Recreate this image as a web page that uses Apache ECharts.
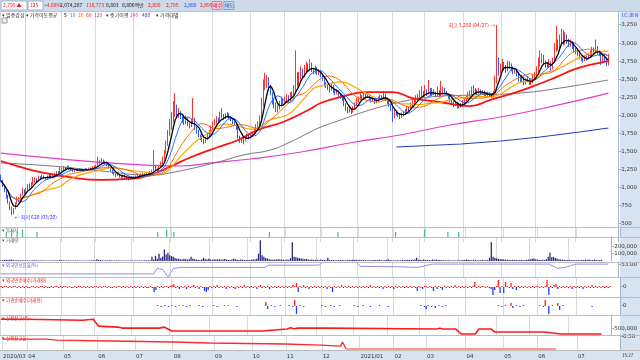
<!DOCTYPE html>
<html><head><meta charset="utf-8">
<script src="https://cdn.jsdelivr.net/npm/echarts@6/dist/echarts.min.js"></script>
<style>html,body{margin:0;padding:0;background:#fff}#c{width:640px;height:360px}</style>
</head><body><div id="c"></div>
<script>
const monthLabels = ['2020/03','04','05','06','07','08','09','10','11','12','2021/01','02','03','04','05','06','07'];
const monthDays = [14,20,19,21,21,23,21,19,20,21,19,18,22,21,19,22,19];
const padDays = 5;
const priceTicks = [500,750,1000,1250,1500,1750,2000,2250,2500,2750,3000,3250];
// [open, close, low, high]
const ohlc = [
[1150,1100,1080,1180],[1090,1030,1010,1110],[1040,960,940,1050],[950,870,850,980],[880,800,780,900],[790,720,690,810],[700,660,620,740],[650,700,630,720],[710,780,700,800],[790,850,770,880],[860,820,800,870],[810,900,800,920],[910,950,890,1000],[960,930,910,980],
[930,980,920,1000],[990,1020,970,1050],[1030,1000,990,1060],[1000,1050,990,1080],[1060,1080,1040,1150],[1090,1120,1070,1140],[1120,1100,1080,1140],[1100,1150,1090,1170],[1150,1130,1110,1160],[1130,1160,1120,1180],[1160,1140,1130,1170],[1140,1120,1110,1150],[1120,1150,1110,1170],[1150,1170,1140,1190],[1170,1140,1130,1180],[1140,1160,1130,1170],[1160,1180,1150,1200],[1180,1210,1170,1230],[1210,1200,1190,1230],[1200,1230,1190,1290],
[1230,1250,1220,1270],[1250,1280,1240,1300],[1280,1270,1250,1290],[1270,1290,1260,1310],[1290,1260,1250,1300],[1260,1240,1230,1270],[1240,1230,1220,1250],[1230,1250,1220,1260],[1250,1240,1230,1260],[1240,1260,1230,1270],[1260,1250,1240,1270],[1250,1230,1220,1260],[1230,1240,1220,1250],[1240,1260,1230,1270],[1260,1250,1240,1270],[1250,1270,1240,1280],[1270,1260,1250,1280],[1260,1280,1250,1300],[1280,1290,1270,1310],
[1290,1300,1280,1320],[1300,1330,1290,1430],[1330,1360,1320,1390],[1360,1380,1340,1410],[1380,1350,1330,1390],[1350,1340,1320,1370],[1340,1320,1300,1350],[1320,1280,1270,1330],[1280,1240,1230,1290],[1240,1200,1190,1250],[1200,1190,1170,1220],[1190,1170,1150,1200],[1170,1180,1160,1200],[1180,1160,1140,1190],[1160,1150,1110,1170],[1150,1170,1140,1180],[1170,1140,1120,1180],[1140,1130,1110,1150],[1130,1120,1100,1140],[1120,1140,1110,1150],[1140,1130,1120,1150],
[1130,1140,1120,1160],[1140,1150,1130,1170],[1150,1170,1140,1190],[1170,1160,1150,1190],[1160,1180,1150,1200],[1180,1190,1170,1210],[1190,1170,1160,1200],[1170,1200,1160,1220],[1200,1190,1180,1220],[1190,1210,1180,1230],[1210,1230,1200,1250],[1240,1300,1230,1520],[1300,1250,1240,1320],[1250,1240,1220,1270],[1240,1300,1230,1320],[1300,1330,1290,1360],[1330,1400,1320,1430],[1400,1480,1390,1520],[1490,1600,1470,1650],[1600,1750,1580,1800],[1750,1850,1720,1950],
[1850,1950,1800,2050],[1960,2050,1900,2200],[2050,2100,1980,2310],[2100,2000,1960,2150],[2000,2050,1970,2100],[2040,1980,1950,2060],[1980,1950,1900,2000],[1950,1900,1870,1980],[1900,1950,1880,2000],[1950,1880,1850,1970],[1880,1850,1820,1900],[1850,1900,1840,1950],[1900,1950,1880,2240],[1950,1820,1800,1970],[1820,1780,1750,1840],[1780,1720,1700,1800],[1720,1700,1660,1740],[1700,1650,1630,1720],[1650,1640,1600,1680],[1640,1680,1620,1700],[1680,1720,1660,1750],[1720,1760,1700,1800],[1760,1820,1750,1860],
[1820,1880,1800,1920],[1880,1900,1860,1950],[1900,1950,1880,1990],[1950,1920,1900,1970],[1920,1980,1910,2050],[1980,2000,1960,2100],[2000,1960,1940,2020],[1960,1990,1950,2030],[1990,2010,1970,2050],[2010,1970,1950,2030],[1970,1940,1920,1990],[1940,1900,1880,1960],[1900,1880,1860,1920],[1880,1820,1800,1900],[1820,1700,1680,1840],[1700,1660,1620,1720],[1660,1680,1620,1700],[1680,1650,1600,1700],[1650,1700,1640,1720],[1700,1720,1680,1750],[1720,1690,1670,1740],
[1690,1740,1680,1760],[1740,1760,1720,1780],[1760,1800,1750,1830],[1800,1850,1790,1880],[1850,1880,1830,1920],[1880,1950,1860,2000],[1960,2150,1950,2250],[2150,2400,2120,2500],[2400,2450,2350,2590],[2450,2500,2380,2560],[2500,2400,2350,2530],[2400,2300,2280,2420],[2300,2200,2150,2320],[2200,2150,2100,2240],[2150,2080,2050,2180],[2080,2100,2040,2150],[2100,2150,2080,2200],[2150,2200,2120,2260],[2200,2180,2150,2240],
[2180,2200,2150,2260],[2200,2240,2180,2300],[2240,2220,2180,2280],[2220,2280,2200,2320],[2280,2260,2230,2330],[2260,2350,2250,2420],[2350,2500,2340,2900],[2500,2450,2400,2600],[2450,2520,2420,2600],[2520,2600,2500,2680],[2600,2550,2520,2650],[2550,2620,2530,2700],[2620,2680,2600,2750],[2680,2650,2600,2720],[2650,2700,2620,2780],[2700,2620,2600,2730],[2620,2600,2570,2660],[2600,2640,2580,2690],[2640,2580,2560,2670],[2580,2600,2560,2640],
[2600,2560,2530,2620],[2560,2500,2480,2580],[2500,2420,2400,2520],[2420,2400,2380,2460],[2400,2380,2350,2430],[2380,2350,2320,2400],[2350,2400,2340,2440],[2400,2330,2310,2420],[2330,2300,2280,2350],[2300,2340,2290,2360],[2340,2280,2260,2350],[2280,2250,2230,2300],[2250,2220,2200,2270],[2220,2150,2130,2240],[2150,2100,2060,2170],[2100,2060,2030,2120],[2060,2080,2040,2110],[2080,2050,2020,2100],[2050,2100,2040,2130],[2100,2150,2090,2180],[2150,2200,2140,2240],
[2200,2230,2180,2260],[2230,2260,2210,2300],[2260,2240,2220,2280],[2240,2280,2230,2320],[2280,2250,2230,2300],[2250,2270,2240,2310],[2270,2230,2210,2290],[2230,2200,2180,2250],[2200,2220,2190,2250],[2220,2180,2160,2240],[2180,2200,2170,2230],[2200,2230,2190,2260],[2230,2260,2220,2290],[2260,2250,2230,2280],[2250,2280,2240,2340],[2280,2220,2200,2300],[2220,2180,2160,2240],[2180,2150,2120,2200],[2150,2100,2060,2160],
[2100,1980,1910,2120],[1980,2050,1960,2080],[2050,2020,2000,2070],[2020,2000,1980,2040],[2000,1980,1950,2030],[1980,2010,1970,2040],[2010,2030,1990,2060],[2030,2060,2010,2090],[2060,2100,2040,2130],[2100,2080,2060,2120],[2080,2150,2070,2180],[2150,2180,2130,2220],[2180,2200,2160,2240],[2200,2230,2180,2280],[2230,2250,2210,2300],[2250,2280,2230,2350],[2280,2300,2260,2400],[2300,2280,2250,2340],
[2280,2320,2260,2420],[2320,2300,2270,2360],[2300,2350,2290,2490],[2350,2280,2260,2380],[2280,2330,2270,2380],[2330,2300,2280,2360],[2300,2270,2250,2330],[2270,2320,2260,2400],[2320,2280,2260,2350],[2280,2300,2270,2480],[2300,2340,2290,2400],[2340,2310,2290,2380],[2310,2290,2270,2340],[2290,2250,2230,2310],[2250,2200,2180,2270],[2200,2180,2150,2230],[2180,2150,2120,2200],[2150,2170,2130,2200],[2170,2120,2090,2190],[2120,2150,2100,2180],[2150,2130,2110,2170],[2130,2180,2120,2210],
[2180,2200,2160,2230],[2200,2230,2180,2270],[2230,2280,2220,2330],[2280,2300,2260,2350],[2300,2320,2280,2400],[2320,2350,2300,2420],[2350,2330,2300,2380],[2330,2310,2290,2360],[2310,2340,2300,2380],[2340,2300,2280,2360],[2300,2320,2290,2350],[2320,2290,2270,2340],[2290,2270,2250,2320],[2270,2300,2260,2330],[2300,2280,2260,2320],[2280,2260,2240,2300],[2260,2300,2250,2340],[2300,2450,2290,2550],[2450,2700,2440,3250],[2700,2600,2550,2800],[2600,2650,2580,2720],
[2650,2700,2620,2780],[2700,2650,2620,2740],[2650,2620,2590,2700],[2620,2700,2610,2760],[2700,2680,2650,2750],[2680,2640,2610,2720],[2640,2600,2570,2680],[2600,2620,2580,2660],[2620,2560,2540,2650],[2560,2500,2470,2590],[2500,2480,2450,2530],[2480,2520,2460,2560],[2520,2450,2420,2540],[2450,2480,2430,2510],[2480,2500,2460,2540],[2500,2440,2420,2520],[2440,2470,2420,2500],[2470,2520,2450,2560],[2520,2560,2500,2600],
[2560,2600,2540,2680],[2600,2700,2590,2800],[2700,2750,2680,2900],[2750,2800,2720,2860],[2800,2720,2700,2840],[2720,2700,2660,2760],[2700,2680,2650,2740],[2680,2720,2660,2780],[2720,2650,2620,2750],[2650,2750,2640,2800],[2750,2900,2740,3000],[2900,2980,2880,3240],[2980,2950,2900,3050],[2950,3050,2930,3120],[3050,3100,3000,3200],[3100,3000,2970,3180],[3000,3080,2980,3150],[3080,3020,2990,3120],[3020,2980,2950,3060],[2980,3000,2950,3050],[3000,2950,2920,3030],[2950,2900,2870,2980],
[2900,2880,2850,2940],[2880,2850,2820,2920],[2850,2800,2780,2880],[2800,2780,2750,2830],[2780,2760,2730,2800],[2760,2800,2750,2840],[2800,2780,2760,2830],[2780,2820,2770,2860],[2820,2850,2800,2900],[2850,2900,2830,2950],[2900,2880,2850,2940],[2880,2920,2860,3050],[2920,2870,2840,2960],[2870,2850,2820,2900],[2850,2760,2700,2870],[2760,2820,2740,2860],[2820,2780,2740,2850],[2780,2700,2680,2800],[2700,2795,2690,2850]
];
// volume, thousands of shares
const volume = [
12,10,15,18,14,16,20,12,10,11,9,8,10,9,
8,9,7,8,10,9,8,7,8,9,7,6,8,7,6,7,8,9,8,12,
9,10,8,9,7,8,6,7,8,6,7,6,5,7,6,8,7,9,10,
10,25,14,12,9,8,9,8,10,9,7,8,7,9,8,7,6,7,6,7,6,
7,6,8,7,8,7,6,9,8,10,12,60,20,71,30,100,40,60,157,90,114,
80,70,60,40,35,30,25,20,30,25,20,25,57,30,25,20,18,15,20,43,25,20,30,
20,18,25,20,22,25,18,20,29,18,15,14,20,30,25,18,15,20,18,15,14,
15,14,18,20,22,30,100,286,80,60,40,35,25,20,18,20,22,25,20,
18,20,15,22,18,40,257,57,50,45,40,35,30,25,28,20,18,20,15,16,
18,15,20,14,13,12,43,15,12,14,11,10,12,15,13,11,10,12,14,15,18,
15,18,14,16,12,14,11,10,12,11,10,13,14,12,18,11,10,12,14,
25,15,12,10,9,10,11,12,14,13,15,16,14,15,18,20,43,15,
18,15,25,14,16,13,12,20,14,22,15,13,12,11,10,9,10,9,8,9,8,10,
10,12,14,15,20,18,14,12,15,13,12,11,10,12,11,10,14,45,257,60,40,
35,30,25,28,20,18,16,18,15,14,13,15,12,13,14,12,13,18,20,
22,30,35,25,18,15,14,16,14,25,60,114,50,57,40,30,25,20,18,16,14,13,
14,12,13,11,10,12,11,13,15,18,14,20,15,13,18,14,12,14,16
];
const foreign = [
1,-1,1,1,-1,1,-1,1,1,-1,1,-1,1,-1,
1,-1,-1,1,1,-1,1,-1,1,1,-1,1,-1,-1,1,-1,1,1,-1,1,
-1,1,1,-1,1,-1,-1,1,-1,1,1,-1,1,-1,1,-1,1,-1,1,
1,-1,1,-1,1,1,-1,1,-1,-1,1,-1,1,1,-1,1,-1,1,-1,1,-1,
1,-1,1,-1,1,-1,1,-1,-1,1,-1,-5,-3,1,-1,1,-1,1,1,-1,1,
2,3,-1,1,-2,1,-1,1,-2,1,-1,1,2,-1,1,-2,1,-1,-4,-5,-3,1,-1,
1,-1,2,-1,1,-1,1,-2,1,-1,1,-1,-2,1,-1,1,-1,2,-1,1,-1,
1,-1,1,-2,1,2,-1,1,-1,1,-2,1,-1,1,-1,1,-1,1,-1,
1,-1,1,-1,2,1,4,-5,1,-1,2,-1,1,-2,1,-1,1,-1,1,-1,
1,-1,1,-2,1,-1,-5,1,-1,1,-1,2,-1,1,-1,1,-1,1,-1,1,-1,
1,-1,1,-1,1,-1,2,-1,1,-1,1,-1,1,-2,1,-1,1,-1,1,
-2,1,-1,1,-1,1,-1,1,-1,1,-1,1,-1,-4,1,-1,-2,1,
1,-1,1,-1,-4,1,-2,1,-1,-3,1,-1,1,-1,1,-1,2,-1,1,-1,1,-1,
1,-1,1,-1,1,5,-1,1,-1,1,1,-1,1,-1,-2,-8,-3,1,7,-6,1,
-6,5,1,-1,4,-2,1,-3,1,-1,1,-1,1,-1,1,-1,1,-1,1,
1,-1,1,-1,1,7,-8,1,-1,2,3,-2,1,-1,1,-1,1,-1,1,-2,1,-1,
1,-1,1,-2,1,-1,1,-1,2,-1,1,-1,1,-1,1,-1,1,-1,1
];
const institution = [[87,1],[89,-1],[91,1],[93,-1],[95,1],[97,-1],[99,1],[101,1],[103,-1],[105,1],[110,1],[112,-1],[118,1],[120,-1],[124,1],[126,1],[131,-1],[147,4],[148,-3],[150,1],[152,-1],[155,1],[160,1],[162,-1],[163,6],[164,-8],[166,1],[168,-1],[178,1],[180,-1],[183,1],[185,-1],[188,1],[196,1],[198,-1],[201,1],[205,-1],[210,1],[215,-1],[233,1],[235,-1],[236,-3],[237,1],[239,-1],[241,-2],[243,1],[245,-1],[247,1],[276,1],[278,-1],[280,1],[283,3],[284,-2],[286,1],[288,-1],[290,1],[299,1],[301,-1],[302,6],[304,-8],[306,1],[309,3],[310,-4],[312,1],[328,-1]];
const events = [[3,2],[6,3],[9,2],[12,3],[20,2],[87,2],[92,3],[96,2],[149,2],[187,2],[219,2],[235,3],[248,2],[254,2]];
const ma60 = [[0,1370],[11,1287],[22,1218],[37,1150],[56,1108],[71,1122],[83,1177],[94,1290],[106,1426],[121,1564],[132,1661],[143,1799],[157,1910],[171,2075],[178,2172],[189,2255],[204,2324],[218,2324],[229,2241],[244,2186],[261,2130],[272,2213],[287,2324],[298,2421],[309,2531],[321,2656],[335,2739],[338,2752]];
const ma120 = [[0,1343],[28,1301],[56,1232],[83,1177],[94,1205],[121,1357],[135,1454],[150,1523],[161,1633],[171,1757],[178,1840],[189,1937],[200,2034],[211,2117],[222,2186],[239,2255],[261,2282],[289,2310],[311,2379],[328,2448],[338,2490]];
const ma240 = [[0,1480],[28,1410],[56,1350],[83,1310],[100,1301],[117,1343],[139,1398],[167,1495],[194,1619],[222,1730],[250,1868],[278,1979],[300,2089],[322,2213],[338,2310]];
const ma480 = [[220,1564],[256,1605],[278,1647],[300,1702],[322,1771],[338,1827]];
const holdRatio = [[0,47.1],[85,47.1],[87,50.7],[90,50.0],[93,45.0],[96,50.7],[100,51.4],[147,51.4],[149,52.9],[177,52.9],[179,54.8],[198,54.8],[200,52.1],[222,51.8],[232,51.4],[240,53.6],[305,53.6],[310,50.7],[314,51.5],[320,53.6],[338,53.6]];
const credit = [[0,1318],[14,1318],[15,1235],[46,1235],[47,1318],[52,1318],[53,1100],[55,741],[66,659],[68,576],[89,576],[90,640],[92,659],[94,500],[96,329],[147,329],[148,494],[161,494],[163,600],[165,520],[167,576],[183,576],[184,494],[245,494],[247,560],[249,494],[256,494],[259,82],[267,82],[269,494],[276,494],[278,247],[306,247],[315,82],[338,82]];
const loanRate = [[0,0.42],[24,0.42],[25,0.38],[30,0.38],[31,0.35],[60,0.35],[61,0.31],[95,0.31],[96,0.27],[115,0.27],[116,0.23],[157,0.23],[158,0.19],[177,0.19],[178,0.15],[188,0.15],[189,0.31],[190,0.31],[191,0.04]];
const loanRate2 = [[191,0.04],[308,0.04]];

// ---- build ----
const cats = [], labelAt = {}, monthStart = new Set();
monthLabels.forEach((lab, m) => {
  for (let d = 0; d < monthDays[m]; d++) {
    const i = cats.length;
    if (d === 0) { monthStart.add(i); labelAt[i] = lab; }
    cats.push('c' + i);
  }
});
for (let k = 0; k < padDays; k++) cats.push('c' + cats.length);
const closes = ohlc.map(r => r[1]);
function movAvg(n) {
  return closes.map((c, i) => { let s = 0, k = 0; for (let j = Math.max(0, i - n + 1); j <= i; j++) { s += closes[j]; k++; } return +(s / k).toFixed(1); });
}
const fmt = v => Math.round(v).toLocaleString('en-US');
const N = 8;
const grids = [
  {top:7,height:235},{top:227,height:10},{top:237,height:24},{top:262,height:15},
  {top:277,height:20},{top:297,height:18},{top:315,height:20},{top:335,height:15}
].map(g => Object.assign({left:0,right:20,show:false}, g));
const splitFn = (idx) => monthStart.has(idx);
const xAxes = grids.map((g, k) => ({
  type:'category', gridIndex:k, data:cats, boundaryGap:true,
  axisLine:{show:false}, axisTick:{show:false},
  axisLabel: k === N-1 ? {show:true, interval:(i)=>monthStart.has(i), formatter:(v,i)=>labelAt[i]||'', fontSize:5.5, color:'#333', align:'left', margin:4, fontFamily:'DejaVu Sans'} : {show:false},
  splitLine:{show:k !== 1 && k !== 2 ? true : true, interval:splitFn, lineStyle:{color:'#d9d9d9', width:1}}
}));
const lab = (shown, f) => ({fontSize:5.5, color:'#333', margin:1, fontFamily:'DejaVu Sans', showMinLabel:true, showMaxLabel:true,
  formatter: v => shown.some(s => Math.abs(s - v) < 1e-6) ? '-' + f(v) : ''});
const yBase = (k, o) => Object.assign({
  type:'value', gridIndex:k, position:'right',
  axisLine:{show:true, lineStyle:{color:'#a9b4c4'}},
  axisTick:{show:false}, splitLine:{show:false}
}, o);
const yAxes = [
  yBase(0,{min:250,max:3500,interval:250,axisLabel:lab(priceTicks,fmt)}),
  yBase(1,{min:0,max:4,interval:4,axisLabel:{show:false}}),
  yBase(2,{min:0,max:330,interval:100,axisLabel:lab([100,200],v=>fmt(v*1000))}),
  yBase(3,{min:45,max:55,interval:2,axisLabel:lab([53],v=>v.toFixed(2))}),
  yBase(4,{min:-10,max:10,interval:10,axisLabel:lab([0],v=>'0')}),
  yBase(5,{min:-9,max:9,interval:9,axisLabel:lab([0],v=>'0')}),
  yBase(6,{min:0,max:1667,interval:500,axisLabel:lab([500],v=>fmt(v*1000))}),
  yBase(7,{min:0,max:0.58,interval:0.25,axisLabel:lab([0.5],v=>v.toFixed(2))})
];
const line = (data, color, width, extra) => Object.assign({type:'line', xAxisIndex:0, yAxisIndex:0, data, symbol:'none', silent:true, lineStyle:{color, width}, z:3}, extra||{});
const redBlue = p => (Array.isArray(p.value) ? p.value[1] : p.value) >= 0 ? '#ff1c1c' : '#1c3cff';
const lastClose = closes[closes.length-1];
const lastVol = volume[volume.length-1];
const series = [
  {type:'candlestick', xAxisIndex:0, yAxisIndex:0, data:ohlc, barWidth:'66%', z:2,
   itemStyle:{color:'#ff1010', color0:'#1848ff', borderColor:'#ff3030', borderColor0:'#2a5cff', borderWidth:1},
   markPoint:{symbol:'circle', symbolSize:0, silent:true, data:[
     {coord:[cats[276],3250], value:'', label:{show:true, position:'left', distance:2, formatter:'최고 3,250 (04/27) →', fontSize:5, color:'#ff2020', fontFamily:'Noto Sans CJK KR'}},
     {coord:[cats[6],620], value:'', label:{show:true, position:'right', distance:3, offset:[0,2], formatter:'← 최저 620 (03/20)', fontSize:5, color:'#3030ff', fontFamily:'Noto Sans CJK KR'}}
   ]},
   markLine:{silent:true, symbol:'none', lineStyle:{opacity:0}, data:[{yAxis:lastClose}],
     label:{show:true, position:'end', distance:1, formatter:fmt(lastClose), backgroundColor:'#ff1010', color:'#fff', fontSize:5.5, padding:[1,3,1,2], fontFamily:'DejaVu Sans'}}
  },
  line(ma480, '#1f3fbf', 1.2),
  line(ma240, '#e03cc8', 1.2, {smooth:true}),
  line(ma120, '#777777', 1, {smooth:true}),
  line(ma60, '#ff1010', 1.8, {smooth:true}),
  line(movAvg(30), '#ffa500', 1.2),
  line(movAvg(20), '#ff6a00', 1),
  line(movAvg(10), '#2a70ff', 1),
  line(movAvg(5), '#000000', 1.3),
  {type:'bar', xAxisIndex:1, yAxisIndex:1, data:events, barWidth:1.2, itemStyle:{color:'#44bb88'}, silent:true},
  {type:'bar', xAxisIndex:2, yAxisIndex:2, data:volume, barWidth:1.3, itemStyle:{color:'#2a2a80'}, silent:true,
   markLine:{silent:true, symbol:'none', lineStyle:{opacity:0}, data:[{yAxis:lastVol}],
     label:{show:true, position:'end', distance:1, formatter:fmt(lastVol*1000), backgroundColor:'#ff30d0', color:'#fff', fontSize:5, padding:[0,2,0,1], fontFamily:'DejaVu Sans'}}},
  {type:'line', xAxisIndex:3, yAxisIndex:3, data:holdRatio, symbol:'none', lineStyle:{color:'#9a8ae8', width:1}, silent:true},
  {type:'bar', xAxisIndex:4, yAxisIndex:4, data:foreign, barWidth:1.3, itemStyle:{color:redBlue}, silent:true},
  {type:'bar', xAxisIndex:5, yAxisIndex:5, data:institution, barWidth:1.3, itemStyle:{color:redBlue}, silent:true},
  {type:'line', xAxisIndex:6, yAxisIndex:6, data:credit, symbol:'none', lineStyle:{color:'#ff1a1a', width:1.6}, silent:true},
  {type:'line', xAxisIndex:7, yAxisIndex:7, data:loanRate, symbol:'none', lineStyle:{color:'#ff2a2a', width:1.4}, silent:true},
  {type:'line', xAxisIndex:7, yAxisIndex:7, data:loanRate2, symbol:'none', lineStyle:{color:'#ff9a90', width:2}, silent:true}
];
const T = (x, y, text, fill, size, extra) => Object.assign({type:'text', x, y, z:100, style:{text, fill: fill||'#333', fontSize:size||5, fontFamily:'Noto Sans CJK KR', textVerticalAlign:'middle'}}, extra||{});
const R = (x, y, w, h, fill, z, stroke) => ({type:'rect', z: z===undefined?-1:z, shape:{x,y,width:w,height:h}, style:{fill, stroke: stroke||null}});
const L = (x1, y1, x2, y2, c) => ({type:'line', z:50, shape:{x1,y1,x2,y2}, style:{stroke:c||'#bcbcbc', lineWidth:1}});
const seps = [227.5, 237.5, 262.5, 277.5, 297.5, 315.5, 335.5, 350.5];
const graphics = [
  R(0,0,640,11.5,'#cddaea',60),
  R(620,11,20,341,'#d8e3f1',-1),
  R(0,351,640,9,'#d8e3f1',-1),
  L(0,11.5,640,11.5,'#9fb0c8'),
  ...seps.map(y => L(0,y,640,y)),
  // toolbar row
  R(1,1,26,9,'#ffffff',61,'#9fb0c8'),
  T(3,5.5,'2,795 ▲','#ff1010',5),
  R(28,1,15,9,'#ffffff',61,'#9fb0c8'),
  T(30,5.5,'125','#ff1010',5),
  T(44,5.5,'+4.68%','#ff1010',5),
  T(60,5.5,'2,074,287','#222',5),
  T(86,5.5,'118,773','#ff1010',5),
  T(106,5.5,'8,803','#222',5),
  T(122,5.5,'8,806백만','#222',5),
  T(148,5.5,'2,800','#ff1010',5),
  T(166,5.5,'2,795','#ff1010',5),
  T(184,5.5,'2,880','#1c3cff',5),
  T(200,5.5,'2,895','#ff1010',5),
  R(212,1.5,10,8,'#f6c8d8',61,'#d08aa0'), T(213,5.5,'매수','#c01040',5),
  R(224,1.5,10,8,'#c8d8f6',61,'#8aa0d0'), T(225,5.5,'매도','#1040c0',5),
  // main legend
  T(2,15,'▾ 일중감성 ▾ 가격이동평균','#333',5),
  T(64,15,'5','#000',5), T(70,15,'10','#2a70ff',5), T(78,15,'20','#ff6a00',5), T(86,15,'60','#ff1010',5), T(94,15,'120','#777',5),
  T(106,15,'▾ 중기이평','#333',5), T(130,15,'240','#e03cc8',5), T(142,15,'480','#1f3fbf',5), T(156,15,'▾ 가격대별','#333',5),
  R(2,18,5,5,'#f0f0f0',1,'#999'),
  T(622,15,'LC:JB N','#1c3cff',4.5),
  // panel labels
  T(2,230,'▾ 투자자','#555',4.5),
  T(2,240,'▾ 거래량','#555',4.5),
  T(2,265,'▾ 외국인보유율(%)','#6a5acd',4.5),
  T(2,280,'▾ 외국인순매수(거래량)','#e02020',4.5),
  T(2,300,'▾ 기관순매수(거래량)','#e02020',4.5),
  T(2,318,'▾ 신용잔고(주)','#e02020',4.5),
  T(2,338,'▾ 신용잔고율','#e02020',4.5),
  T(622,355,'15:27','#333',4.5)
];
const chart = echarts.init(document.getElementById('c'), null, {renderer:'canvas'});
chart.setOption({
  animation:false, backgroundColor:'#ffffff',
  grid:grids, xAxis:xAxes, yAxis:yAxes, series, graphic:graphics
});
</script></body></html>
